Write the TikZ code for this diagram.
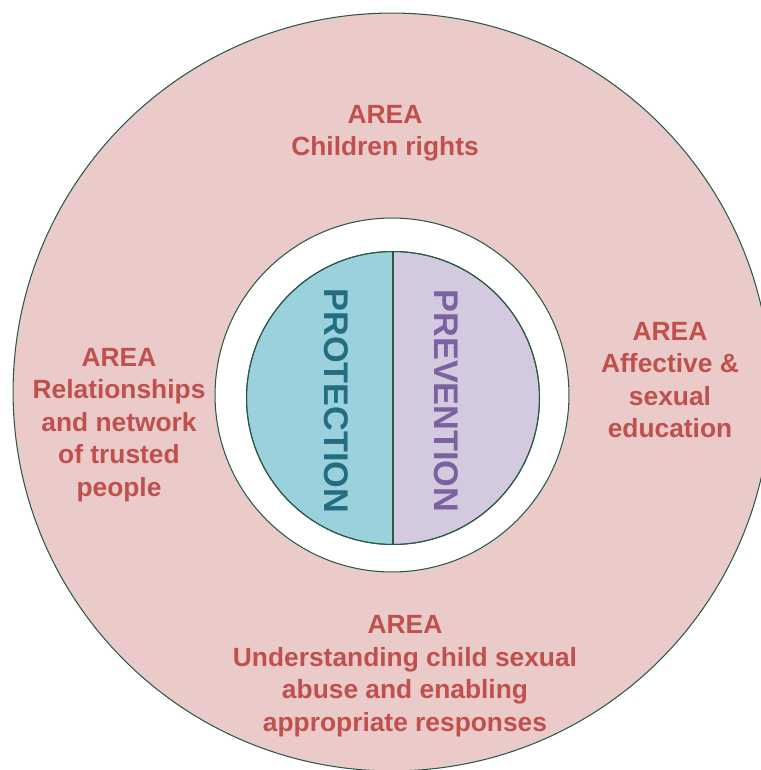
\documentclass[tikz,border=0pt]{standalone}
\usepackage{fontspec}
\setmainfont{Liberation Sans}
\usepackage{xcolor}
\usetikzlibrary{positioning}

\definecolor{ringpink}{HTML}{EBCBCA}
\definecolor{areared}{HTML}{C0504D}
\definecolor{protfill}{HTML}{9BD0DD}
\definecolor{prottext}{HTML}{226E80}
\definecolor{prevfill}{HTML}{D4CADF}
\definecolor{prevtext}{HTML}{7D60A0}
\definecolor{rimgreen}{HTML}{2A5A45}

\tikzset{
    ring/.style={circle, draw=rimgreen, line width=0.6pt, inner sep=0pt},
    arealabel/.style={align=center, text=areared, font=\fontsize{15}{18.5}\selectfont\bfseries},
    pillar/.style={rotate=-90, font=\fontsize{19.5}{22}\selectfont\bfseries}
}

\begin{document}
\begin{tikzpicture}[x=0.02cm, y=-0.02cm]

    \useasboundingbox (0,0) rectangle (760,770);

    %circles
    \node [ring, fill=ringpink, minimum size=15.16cm] (outer) at (392,392) {};
    \node [ring, fill=white, minimum size=7.08cm] (gap) at (392,395) {};
    \node [ring, minimum size=5.86cm, path picture={
        \fill [protfill] (path picture bounding box.north west) rectangle (path picture bounding box.south);
        \fill [prevfill] (path picture bounding box.north) rectangle (path picture bounding box.south east);
    }] (core) at (393,398) {};
    \node [ring, minimum size=5.86cm] (rim) at (393,398) {};

    %divider
    \draw [rimgreen, line width=0.6pt] (core.north) -- (core.south);

    %pillars
    \node [pillar, text=prottext] (protection) at (336,401) {PROTECTION};
    \node [pillar, text=prevtext] (prevention) at (446,401) {PREVENTION};

    %areas
    \node [arealabel] (rights) at (385,133) {AREA\\Children rights};
    \node [arealabel] (network) at (119,425) {AREA\\Relationships\\and network\\of trusted\\people};
    \node [arealabel] (affective) at (670,380) {AREA\\Affective \&\\sexual\\education};
    \node [arealabel] (abuse) at (405,676) {AREA\\Understanding child sexual\\abuse and enabling\\appropriate responses};

\end{tikzpicture}
\end{document}
